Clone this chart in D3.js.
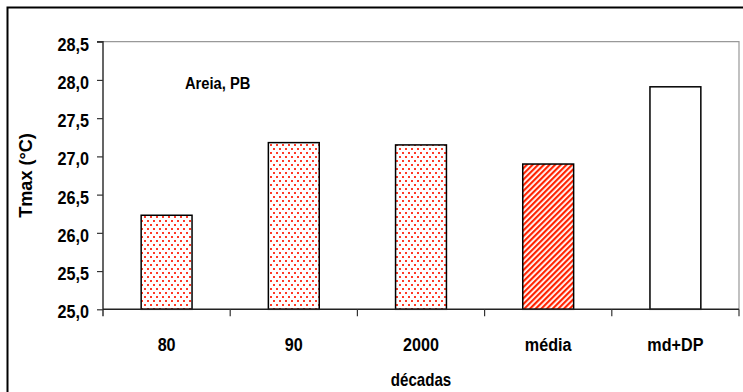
<!DOCTYPE html>
<html><head><meta charset="utf-8">
<script src="https://cdn.jsdelivr.net/npm/d3@7"></script>
<style>
html,body{margin:0;padding:0;background:#fff;}
svg{display:block;}
text{font-family:"Liberation Sans",Arial,sans-serif;font-weight:bold;fill:#000;}
</style></head>
<body>
<svg id="chart" width="743" height="392"></svg>
<script>
const categories = ["80", "90", "2000", "média", "md+DP"];
const values = [26.23, 27.18, 27.15, 26.90, 27.91];
const fills = ["dots", "dots", "dots", "stripes", "plain"];
const yTicks = [25.0, 25.5, 26.0, 26.5, 27.0, 27.5, 28.0, 28.5];
const yDomain = [25.0, 28.5];
const yLabel = "Tmax (°C)";
const xLabel = "décadas";
const note = "Areia, PB";

const svg = d3.select("#chart");
const plot = {left: 103, right: 739, top: 41.7, bottom: 309.3};

// patterns
const defs = svg.append("defs");
const pd = defs.append("pattern").attr("id", "dots").attr("patternUnits", "userSpaceOnUse")
  .attr("width", 6).attr("height", 8);
pd.append("rect").attr("width", 6).attr("height", 8).attr("fill", "#fff");
pd.append("rect").attr("x", 0).attr("y", 0).attr("width", 2).attr("height", 2).attr("fill", "#ff3a28");
pd.append("rect").attr("x", 3).attr("y", 4).attr("width", 2).attr("height", 2).attr("fill", "#ff3a28");
const ps = defs.append("pattern").attr("id", "stripes").attr("patternUnits", "userSpaceOnUse")
  .attr("width", 4).attr("height", 4).attr("patternTransform", "rotate(45)");
ps.append("rect").attr("width", 4).attr("height", 4).attr("fill", "#fff");
ps.append("rect").attr("width", 2.2).attr("height", 4).attr("fill", "#ff2200");

// outer frame
svg.append("rect").attr("x", 7.5).attr("y", 7.5).attr("width", 800).attr("height", 500)
  .attr("fill", "none").attr("stroke", "#000").attr("stroke-width", 2);

const x = d3.scaleBand().domain(categories).range([plot.left, plot.right])
  .paddingInner(0.6).paddingOuter(0.3);
const y = d3.scaleLinear().domain(yDomain).range([plot.bottom, plot.top]);

// plot area border (top, right)
svg.append("path")
  .attr("d", `M${plot.left},${plot.top}H${plot.right}V${plot.bottom}`)
  .attr("fill", "none").attr("stroke", "#999").attr("stroke-width", 1.2);

// bars
svg.append("g").selectAll("rect").data(categories).join("rect")
  .attr("x", d => x(d))
  .attr("y", (d, i) => y(values[i]))
  .attr("width", x.bandwidth())
  .attr("height", (d, i) => y(yDomain[0]) - y(values[i]))
  .attr("fill", (d, i) => fills[i] === "plain" ? "#fff" : `url(#${fills[i]})`)
  .attr("stroke", "#000").attr("stroke-width", 1.5);

// condensed text helper
function ctext(g, px, py, str, size, sx, anchor, rot) {
  return g.append("text")
    .attr("transform", `translate(${px},${py})${rot ? " rotate(" + rot + ")" : ""} scale(${sx},1)`)
    .attr("text-anchor", anchor || "middle").attr("font-size", size).text(str);
}

// y axis
const fmt = v => d3.format(".1f")(v).replace(".", ",");
const yAxis = svg.append("g").attr("transform", `translate(${plot.left},0)`)
  .call(d3.axisLeft(y).tickValues(yTicks).tickFormat(fmt).tickSize(6).tickPadding(8));
yAxis.select(".domain").attr("stroke", "#333").attr("stroke-width", 1.5)
  .attr("d", `M-6,${plot.top}H0V${plot.bottom + 7}`);
yAxis.selectAll(".tick line").attr("stroke", "#333").attr("stroke-width", 1.2);
yAxis.selectAll(".tick text")
  .attr("font-size", 18).attr("font-family", null).attr("font-weight", null)
  .attr("x", null).attr("dy", "0.36em")
  .attr("transform", "translate(-14,2) scale(0.9,1)");

// x axis
const step = x.step();
const bounds = categories.map(d => x(d) + x.bandwidth() / 2 + step / 2);
svg.append("line").attr("x1", plot.left).attr("x2", plot.right)
  .attr("y1", plot.bottom).attr("y2", plot.bottom).attr("stroke", "#222").attr("stroke-width", 1.5);
svg.append("g").selectAll("line").data(bounds).join("line")
  .attr("x1", d => d).attr("x2", d => d)
  .attr("y1", plot.bottom).attr("y2", plot.bottom + 7)
  .attr("stroke", "#333").attr("stroke-width", 1.2);
const xl = svg.append("g");
categories.forEach(d => ctext(xl, x(d) + x.bandwidth() / 2, 351, d, 19, 0.85));

// axis titles
ctext(svg, (plot.left + plot.right) / 2, 386, xLabel, 18, 0.84);
ctext(svg, 32, (plot.top + plot.bottom) / 2, yLabel, 18.5, 0.98, "middle", -90);

// note
ctext(svg, 185, 88.5, note, 16, 0.92, "start");
</script>
</body></html>
